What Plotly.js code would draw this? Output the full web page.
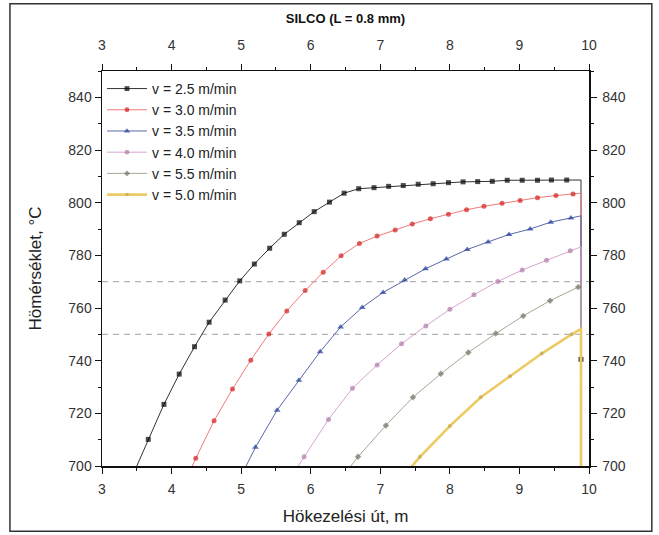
<!DOCTYPE html>
<html><head><meta charset="utf-8">
<script src="https://cdn.plot.ly/plotly-3.0.1.min.js"></script>
<style>html,body{margin:0;padding:0;background:#fff}</style>
</head><body><div id="chart" style="width:659px;height:535px"></div>
<script>
// ---- data ----
const chartTitle = "SILCO (L = 0.8 mm)";
const xTitle = "Hökezelési út, m";
const yTitle = "Hömérséklet, °C";
const seriesNames = ["v = 2.5 m/min", "v = 3.0 m/min", "v = 3.5 m/min", "v = 4.0 m/min", "v = 5.5 m/min", "v = 5.0 m/min"];

const v25_x = [3.45, 3.665, 3.89, 4.11, 4.33, 4.54, 4.77, 4.98, 5.19, 5.41, 5.62, 5.835, 6.05, 6.27, 6.48, 6.69, 6.91, 7.12, 7.33, 7.545, 7.76, 7.98, 8.19, 8.40, 8.61, 8.825, 9.04, 9.26, 9.46, 9.68, 9.885, 9.885, 9.885];
const v25_y = [697, 710.1, 723.4, 734.9, 745.3, 754.6, 763.0, 770.3, 776.7, 782.7, 788.0, 792.4, 796.6, 800.2, 803.6, 805.3, 805.7, 806.2, 806.5, 807.0, 807.2, 807.6, 807.9, 808.0, 808.1, 808.5, 808.5, 808.5, 808.6, 808.6, 808.6, 740.5, 690];

const v30_x = [4.09, 4.348, 4.611, 4.875, 5.139, 5.398, 5.656, 5.92, 6.18, 6.437, 6.70, 6.955, 7.214, 7.46, 7.72, 7.98, 8.24, 8.49, 8.75, 9.01, 9.26, 9.525, 9.77, 9.885, 9.885];
const v30_y = [688, 702.9, 717.2, 729.2, 740.2, 750.1, 758.9, 766.6, 773.6, 779.8, 784.5, 787.3, 789.6, 791.9, 793.9, 795.6, 797.3, 798.6, 799.8, 800.8, 801.9, 802.7, 803.3, 803.6, 690];

const v35_x = [4.90, 5.206, 5.517, 5.83, 6.135, 6.43, 6.74, 7.04, 7.35, 7.65, 7.95, 8.25, 8.55, 8.85, 9.155, 9.45, 9.74, 9.885, 9.885];
const v35_y = [691, 707.1, 721.2, 732.6, 743.4, 752.8, 760.2, 765.9, 770.6, 774.9, 778.6, 782.2, 785.1, 787.9, 790.0, 792.6, 794.2, 795.0, 690];

const v40_x = [5.55, 5.905, 6.256, 6.60, 6.955, 7.306, 7.655, 8.0, 8.346, 8.69, 9.04, 9.39, 9.73, 9.885, 9.885];
const v40_y = [689, 703.5, 717.7, 729.5, 738.4, 746.4, 753.2, 759.5, 765.0, 770.1, 774.4, 778.1, 781.7, 783.2, 690];

const v55_x = [6.285, 6.68, 7.08, 7.47, 7.87, 8.265, 8.66, 9.055, 9.44, 9.845, 9.885, 9.885];
const v55_y = [690, 703.5, 715.4, 726.1, 735.0, 743.1, 750.3, 757.0, 762.8, 768.0, 768.4, 690];

const v50_x = [7.13, 7.57, 8.0, 8.445, 8.865, 9.32, 9.75, 9.885, 9.885];
const v50_y = [690, 703.5, 715.2, 726.1, 734.1, 742.7, 750.0, 752.0, 690];

const refTemps = [750, 770];
const xRange = [3, 10];
const yRange = [700, 850];
const xTicks = [3, 4, 5, 6, 7, 8, 9, 10];
const yTicks = [700, 720, 740, 760, 780, 800, 820, 840];

// ---- styles ----
const styles = [
  {line: "#333333", width: 1, marker: "#000000", symbol: "square", size: 5},
  {line: "#f07a7a", width: 1, marker: "#d41c1c", symbol: "circle", size: 5},
  {line: "#5868a8", width: 1, marker: "#1f3a9a", symbol: "triangle-up", size: 6},
  {line: "#d8a4d0", width: 1, marker: "#b07aa8", symbol: "circle", size: 5},
  {line: "#a3aa94", width: 1, marker: "#6e7262", symbol: "diamond", size: 5},
  {line: "#eccb62", width: 2.6, marker: "#c4a558", symbol: "circle", size: 4}
];
const xs = [v25_x, v30_x, v35_x, v40_x, v55_x, v50_x];
const ys = [v25_y, v30_y, v35_y, v40_y, v55_y, v50_y];

function markerSizes(arr, size) {
  return arr.map((x, i) => (i > 0 && i < arr.length - 1 && arr[i + 1] === x && arr[i - 1] !== x) ? 0 : size);
}

const traces = xs.map((x, k) => ({
  type: "scatter", mode: "lines+markers", name: seriesNames[k],
  x: x, y: ys[k],
  line: {color: styles[k].line, width: styles[k].width},
  marker: {color: styles[k].marker, symbol: styles[k].symbol, size: markerSizes(x, styles[k].size), line: {width: 0}}
}));

const FONT = "Liberation Sans, Arial, sans-serif";
const axisCommon = {
  showgrid: false, zeroline: false, showline: true, linecolor: "#111", linewidth: 1.5,
  ticks: "outside", ticklen: 6, tickwidth: 1, tickcolor: "#111",
  tickfont: {family: FONT, size: 14, color: "#333"}
};

const shapes = refTemps.map(t => ({
  type: "line", xref: "paper", x0: 0, x1: 1, yref: "y", y0: t, y1: t,
  line: {color: "#b4b4b4", width: 1.2, dash: "6px,5px"}, layer: "below"
}));
shapes.push({type: "rect", xref: "paper", yref: "paper", x0: -0.189, x1: 1.129, y0: -0.165, y1: 1.17,
  line: {color: "#333", width: 1.5}, fillcolor: "rgba(0,0,0,0)"});

const layout = {
  width: 659, height: 535,
  margin: {l: 102, r: 70, t: 71, b: 69, pad: 0},
  paper_bgcolor: "#fff", plot_bgcolor: "#fff",
  font: {family: FONT, color: "#222"},
  title: {text: "<b>" + chartTitle + "</b>", font: {family: FONT, size: 13, color: "#111"},
          x: 0.5, xref: "paper", xanchor: "center", y: 0.966, yanchor: "middle"},
  showlegend: true,
  legend: {x: 0.0, y: 0.995, xanchor: "left", yanchor: "top", bgcolor: "rgba(0,0,0,0)",
           font: {family: FONT, size: 14, color: "#222"}, itemwidth: 40, tracegroupgap: 0},
  xaxis: Object.assign({}, axisCommon, {range: xRange, tickvals: xTicks, ticklabelstandoff: 4,
           minor: {dtick: 0.5, ticks: "outside", ticklen: 3, tickcolor: "#111"},
           title: {text: xTitle, font: {family: FONT, size: 17, color: "#222"}, standoff: 14}}),
  xaxis2: Object.assign({}, axisCommon, {range: xRange, tickvals: xTicks, overlaying: "x", side: "top", anchor: "y",
           ticklabelstandoff: 8, minor: {dtick: 0.5, ticks: "outside", ticklen: 3, tickcolor: "#111"}}),
  yaxis: Object.assign({}, axisCommon, {range: yRange, tickvals: yTicks, ticklabelstandoff: 0,
           minor: {dtick: 10, ticks: "outside", ticklen: 3, tickcolor: "#111"},
           title: {text: yTitle, font: {family: FONT, size: 17, color: "#222"}, standoff: 22}}),
  yaxis2: Object.assign({}, axisCommon, {range: yRange, tickvals: yTicks, overlaying: "y", side: "right", anchor: "x",
           ticklabelstandoff: 3, minor: {dtick: 10, ticks: "outside", ticklen: 3, tickcolor: "#111"}}),
  shapes: shapes
};

traces.push({type: "scatter", x: [], y: [], xaxis: "x2", yaxis: "y2", showlegend: false, hoverinfo: "skip"});

Plotly.newPlot("chart", traces, layout, {displayModeBar: false, staticPlot: true});
</script></body></html>
